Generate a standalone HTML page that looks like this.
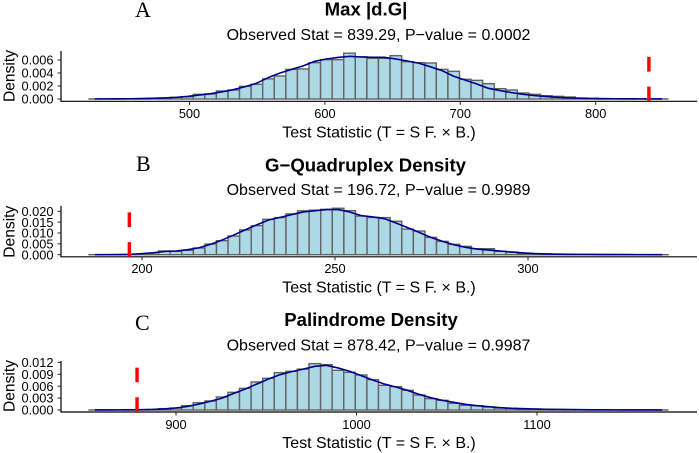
<!DOCTYPE html>
<html>
<head>
<meta charset="utf-8">
<style>
html,body{margin:0;padding:0;background:#fff;width:699px;height:453px;overflow:hidden}
svg{display:block;font-family:"Liberation Sans",sans-serif;fill:#000}
.title{font-size:18.6px;font-weight:bold;text-anchor:middle}
.sub{font-size:16px;text-anchor:middle}
.xtitle{font-size:16px;text-anchor:middle}
.ytitle{font-size:15.6px;text-anchor:middle}
.tick{font-size:12.8px}
.letter{font-family:"Liberation Serif",serif;font-size:22px}
</style>
</head>
<body>
<svg id="chart" width="699" height="453" viewBox="0 0 699 453" xmlns="http://www.w3.org/2000/svg">
  <g id="panel-a">
    <text class="letter" x="135" y="17">A</text>
    <text class="title" x="366" y="15.5">Max |d.G|</text>
    <text class="sub" x="378.5" y="40">Observed Stat = 839.29, P−value = 0.0002</text>
    <text class="xtitle" x="379" y="137.3">Test Statistic (T = S F. × B.)</text>
    <text class="ytitle" transform="translate(14.5,76) rotate(-90)">Density</text>
  </g>
  <g id="panel-b">
    <text class="letter" x="136" y="171">B</text>
    <text class="title" x="365.5" y="171.5">G−Quadruplex Density</text>
    <text class="sub" x="378.5" y="195">Observed Stat = 196.72, P−value = 0.9989</text>
    <text class="xtitle" x="379" y="292.7">Test Statistic (T = S F. × B.)</text>
    <text class="ytitle" transform="translate(14.5,231.7) rotate(-90)">Density</text>
  </g>
  <g id="panel-c">
    <text class="letter" x="135" y="330">C</text>
    <text class="title" x="371" y="326">Palindrome Density</text>
    <text class="sub" x="378.5" y="350.7">Observed Stat = 878.42, P−value = 0.9987</text>
    <text class="xtitle" x="379" y="448">Test Statistic (T = S F. × B.)</text>
    <text class="ytitle" transform="translate(14.5,386) rotate(-90)">Density</text>
  </g>
</svg>
<script>
// Panel A data (densities x 0.001 per bin)
var binStartA = 425.8;
var binWidthA = 8.55;
var barsA = [0.01,0.01,0.02,0.03,0.05,0.08,0.15,0.26,0.36,0.72,0.77,1.23,1.38,1.95,2.26,3.1,3.54,4.56,4.62,5.59,6.05,6.05,7.05,6.51,6.26,6.26,6.67,5.74,5.59,5.54,4.56,4.26,3.03,2.87,2.36,1.59,1.38,0.92,0.72,0.51,0.41,0.31,0.15,0.1,0.06,0.04,0.02,0.02,0.01,0.01];
var curveA = [0.02,0.02,0.03,0.04,0.06,0.1,0.16,0.25,0.4,0.6,0.82,1.1,1.45,1.9,2.45,3.3,4.0,4.55,5.1,5.8,6.15,6.4,6.56,6.46,6.41,6.41,6.15,5.85,5.5,4.95,4.36,3.5,2.9,2.3,1.64,1.3,0.98,0.72,0.52,0.38,0.26,0.17,0.11,0.07,0.05,0.04,0.03,0.02,0.02,0.01];
var xTicksA = [500,600,700,800];
var yTicksA = [0,2,4,6];
var yLabelsA = ["0.000","0.002","0.004","0.006"];
var observedA = 839.29;

// Panel B data
var binStartB = 186.3;
var binWidthB = 3.0;
var barsB = [0.01,0.01,0.01,0.02,0.05,0.3,1.7,1.54,2.0,3.08,4.92,6.46,8.6,11.4,13.4,16.3,17.1,18.8,20.2,20.5,20.9,21.4,20.3,17.8,17.2,17.1,15.4,11.8,10.9,8.0,6.15,4.77,3.85,2.77,2.77,1.54,1.23,0.62,0.46,0.3,0.2,0.15,0.1,0.08,0.06,0.04,0.03,0.02,0.01,0.01];
var curveB = [0.02,0.03,0.06,0.15,0.45,0.9,1.5,1.7,2.3,3.2,4.8,6.8,9.1,11.5,13.8,16,17.2,18.5,19.7,20.3,20.8,20.8,19.7,18,17.4,16.6,14.6,12.5,10.3,8,6.2,4.6,3.4,2.6,2.15,1.7,1.2,0.8,0.5,0.35,0.25,0.2,0.15,0.1,0.08,0.06,0.04,0.03,0.02,0.01];
var xTicksB = [200,250,300];
var yTicksB = [0,5,10,15,20];
var yLabelsB = ["0.000","0.005","0.010","0.015","0.020"];
var observedB = 196.72;

// Panel C data
var binStartC = 851.8;
var binWidthC = 6.415;
var barsC = [0.01,0.01,0.02,0.03,0.06,0.12,0.34,0.5,1.09,1.85,2.27,3.28,4.45,5.46,7.06,7.98,9.41,9.75,10.3,11.68,11.43,10.0,9.5,8.82,7.65,6.22,5.88,4.96,3.78,2.86,2.44,1.68,1.18,1.09,0.76,0.5,0.42,0.34,0.25,0.17,0.12,0.08,0.06,0.04,0.03,0.02,0.02,0.01,0.01,0.01];
var curveC = [0.02,0.02,0.03,0.05,0.08,0.14,0.28,0.5,0.9,1.5,2.2,3,4.2,5.3,6.55,7.8,8.9,9.66,10.3,11,11.26,10.6,9.75,8.65,7.56,6.55,5.8,4.96,3.95,3.1,2.44,1.93,1.43,1.09,0.84,0.6,0.42,0.34,0.25,0.18,0.13,0.1,0.07,0.05,0.04,0.03,0.02,0.02,0.01,0.01];
var xTicksC = [900,1000,1100];
var yTicksC = [0,3,6,9,12];
var yLabelsC = ["0.000","0.003","0.006","0.009","0.012"];
var observedC = 878.42;

var SVGNS = "http://www.w3.org/2000/svg";

function make(tag, parent) {
  var el = document.createElementNS(SVGNS, tag);
  parent.appendChild(el);
  return el;
}

function drawPanel(parentId, bins, binStart, binWidth, curve, xTicks, yTicks, yLabels, observed, xAt, xPerUnit, yZero, yPerUnit, axisY, axisTop, labelBaseline) {
  var parent = document.getElementById(parentId);
  function xScale(v) { return xAt + (v - xTicks[0]) * xPerUnit; }
  function yScale(v) { return yZero - v * yPerUnit; }

  // bars
  var i;
  for (i = 0; i < bins.length; i++) {
    var bar = make("rect", parent);
    
    
    var left = xScale(binStart + i * binWidth);
    var top = yScale(bins[i]);
    bar.setAttribute("x", left);
    bar.setAttribute("y", top);
    bar.setAttribute("width", binWidth * xPerUnit);
    bar.setAttribute("height", Math.max(yZero - top, 0.01));
    bar.setAttribute("fill", "#add8e6");
    bar.setAttribute("stroke", "#626262");
    bar.setAttribute("stroke-width", "1.4");
  }

  // density curve
  var pts = [];
  for (i = 0; i < curve.length; i++) {
    pts.push(xScale(binStart + (i + 0.5) * binWidth).toFixed(2) + "," + yScale(curve[i]).toFixed(2));
  }
  var line = make("polyline", parent);
  
  
  line.setAttribute("points", pts.join(" "));
  line.setAttribute("fill", "none");
  line.setAttribute("stroke", "#00008b");
  line.setAttribute("stroke-width", "1.6");
  line.setAttribute("stroke-linejoin", "round");

  // axes
  var xAxis = make("line", parent);
  
  
  xAxis.setAttribute("x1", 60.4);
  xAxis.setAttribute("x2", 697);
  xAxis.setAttribute("y1", axisY);
  xAxis.setAttribute("y2", axisY);
  xAxis.setAttribute("stroke", "#000");
  xAxis.setAttribute("stroke-width", "1.2");

  var yAxis = make("line", parent);
  
  
  yAxis.setAttribute("x1", 61);
  yAxis.setAttribute("x2", 61);
  yAxis.setAttribute("y1", axisTop);
  yAxis.setAttribute("y2", axisY);
  yAxis.setAttribute("stroke", "#000");
  yAxis.setAttribute("stroke-width", "1.2");

  // x ticks
  for (i = 0; i < xTicks.length; i++) {
    var xt = make("line", parent);
    
    
    xt.setAttribute("x1", xScale(xTicks[i]));
    xt.setAttribute("x2", xScale(xTicks[i]));
    xt.setAttribute("y1", axisY);
    xt.setAttribute("y2", axisY + 3.5);
    xt.setAttribute("stroke", "#222");
    xt.setAttribute("stroke-width", "1");
    var xl = make("text", parent);
    
    
    xl.setAttribute("class", "tick");
    xl.setAttribute("x", xScale(xTicks[i]));
    xl.setAttribute("y", labelBaseline);
    xl.setAttribute("text-anchor", "middle");
    xl.textContent = xTicks[i];
  }

  // y ticks
  for (i = 0; i < yTicks.length; i++) {
    var yt = make("line", parent);
    
    
    yt.setAttribute("x1", 57.5);
    yt.setAttribute("x2", 61);
    yt.setAttribute("y1", yScale(yTicks[i]));
    yt.setAttribute("y2", yScale(yTicks[i]));
    yt.setAttribute("stroke", "#222");
    yt.setAttribute("stroke-width", "1");
    var yl = make("text", parent);
    
    
    yl.setAttribute("class", "tick");
    yl.setAttribute("x", 53.5);
    yl.setAttribute("y", yScale(yTicks[i]) + 4.6);
    yl.setAttribute("text-anchor", "end");
    yl.textContent = yLabels[i];
  }

  // observed statistic marker
  var marker = make("line", parent);
  
  
  marker.setAttribute("x1", xScale(observed));
  marker.setAttribute("x2", xScale(observed));
  marker.setAttribute("y1", axisY);
  marker.setAttribute("y2", axisY - 44.5);
  marker.setAttribute("stroke", "#ff0000");
  marker.setAttribute("stroke-width", "3.4");
  marker.setAttribute("stroke-dasharray", "14.7 15");
}

drawPanel("panel-a", barsA, binStartA, binWidthA, curveA, xTicksA, yTicksA, yLabelsA, observedA, 189.5, 1.354, 99, 6.5, 101.3, 51, 118);
drawPanel("panel-b", barsB, binStartB, binWidthB, curveB, xTicksB, yTicksB, yLabelsB, observedB, 142, 3.86, 254.7, 2.17, 256.8, 206, 273);
drawPanel("panel-c", barsC, binStartC, binWidthC, curveC, xTicksC, yTicksC, yLabelsC, observedC, 176, 1.805, 410, 3.97, 412, 361, 429);
</script>
</body>
</html>
